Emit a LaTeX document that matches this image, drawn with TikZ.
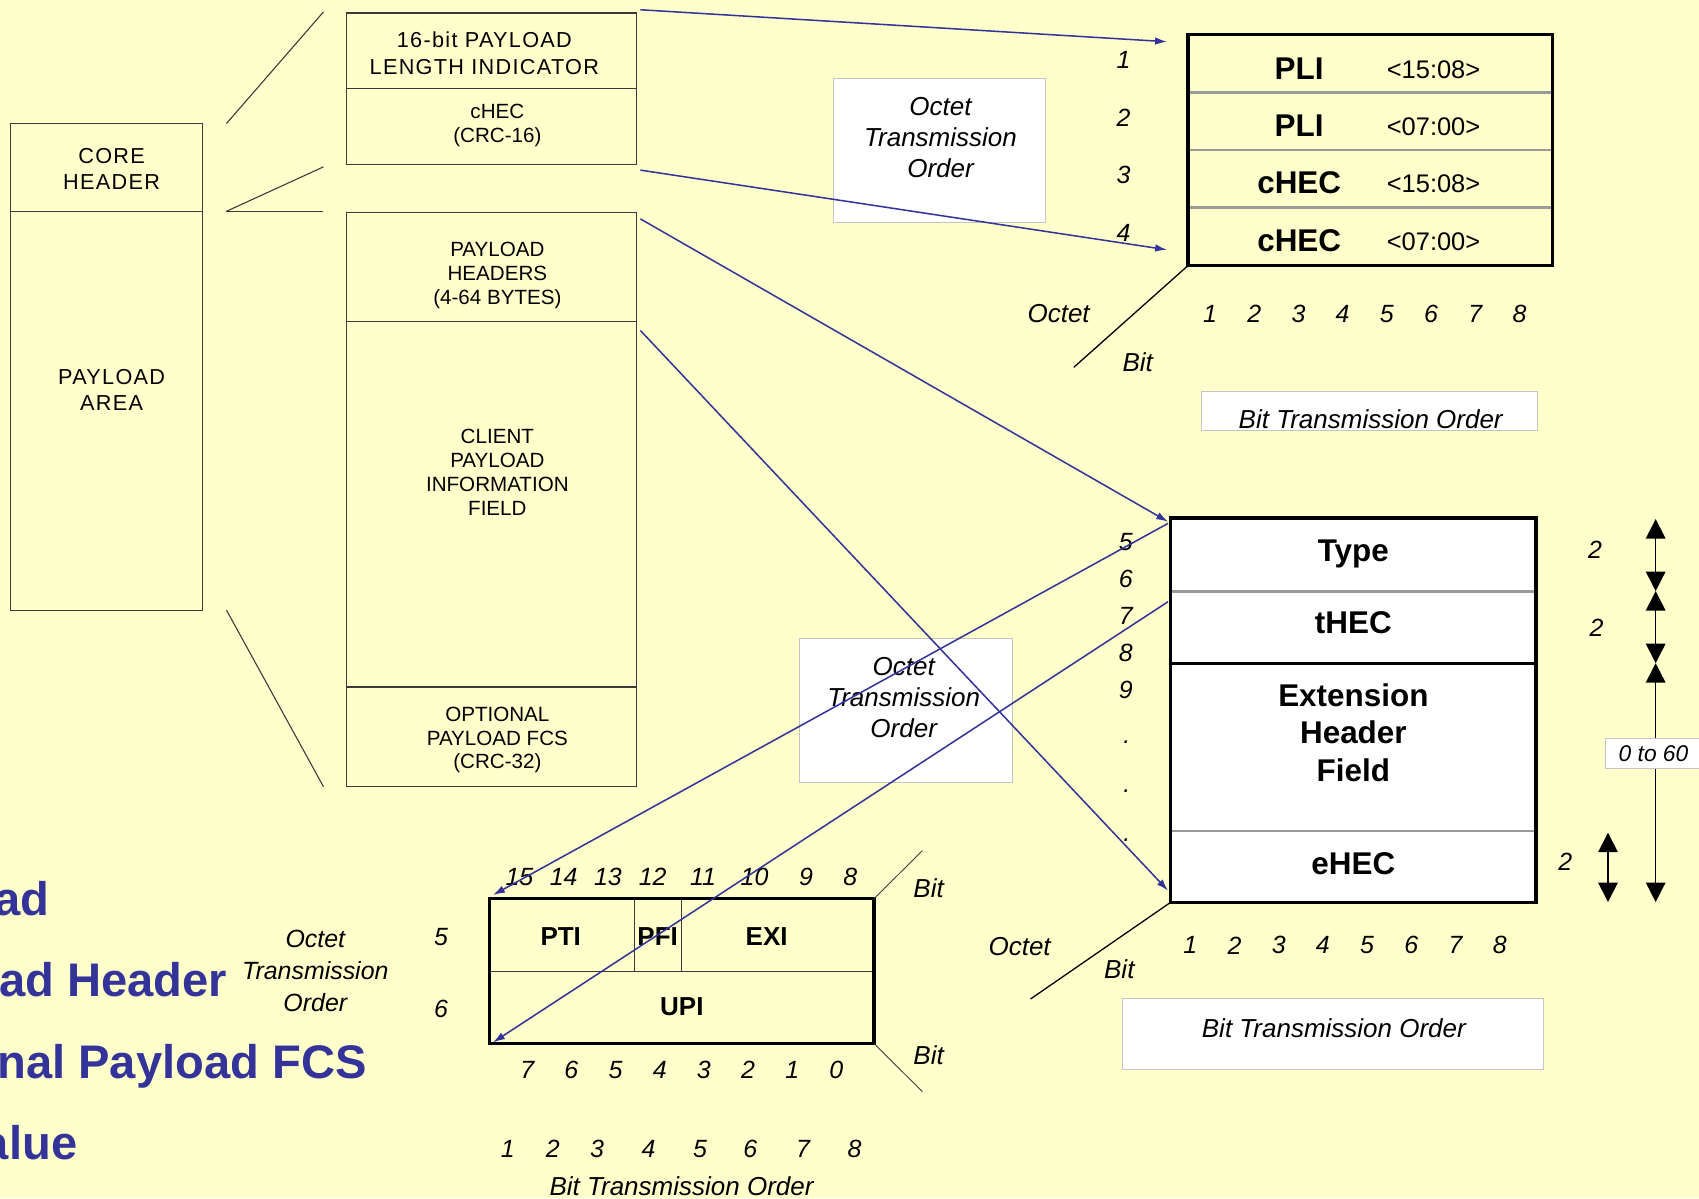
\documentclass[tikz,border=0pt]{standalone}
\usepackage{fontspec}
\setmainfont{Liberation Sans}
\newfontfamily\spacedfont[LetterSpace=6]{Liberation Sans}
\usetikzlibrary{arrows.meta}
\definecolor{bgyellow}{HTML}{FFFFCC}
\definecolor{navy}{HTML}{333399}
\definecolor{divgrey}{HTML}{9A9A9A}
\definecolor{boxedge}{HTML}{C4C4C4}
\definecolor{thinline}{HTML}{3A3A3A}
\begin{document}
\begin{tikzpicture}[x=1pt,y=-1pt,
  outline/.style={draw=thinline, line width=1pt},
  heavy/.style={draw=black, line width=3pt},
  greydiv/.style={draw=divgrey, line width=2.5pt},
  capslbl/.style={font=\fontsize{19}{22}\selectfont, align=center, inner sep=0pt},
  spacedlbl/.style={font=\spacedfont\fontsize{20}{24}\selectfont, align=center, inner sep=0pt},
  itnum/.style={font=\itshape\fontsize{23}{27}\selectfont, inner sep=0pt},
  itlbl/.style={font=\itshape\fontsize{24}{28.5}\selectfont, align=center, inner sep=0pt},
  fieldlbl/.style={font=\bfseries\fontsize{29}{34.5}\selectfont, align=center, inner sep=0pt},
  smallfield/.style={font=\bfseries\fontsize{24}{28}\selectfont, inner sep=0pt},
  rangelbl/.style={font=\fontsize{23.5}{27}\selectfont, inner sep=0pt},
  whitebox/.style={fill=white, draw=boxedge, line width=0.8pt},
  conn/.style={draw=navy, line width=1.4pt, -{Latex[length=11pt,width=7pt]}},
  dimarrow/.style={line width=1.4pt, {Triangle[length=18pt,width=18pt]}-{Triangle[length=18pt,width=18pt]}},
  bluetxt/.style={font=\bfseries\fontsize{43.5}{50}\selectfont, text=navy, inner sep=0pt, anchor=base east}
]
\fill[bgyellow] (0,0) rectangle (1568,1106);
\useasboundingbox (0,0) rectangle (1568,1106);
\clip (0,0) rectangle (1568,1106);

% ---------- left: core header / payload area ----------
\draw[outline] (10,114) rectangle (187,563);
\draw[outline] (10,195) -- (187,195);
\node[spacedlbl] (coreh) at (103,156) {CORE\\HEADER};
\node[spacedlbl] (payarea) at (103,360) {PAYLOAD\\AREA};

% expansion lines
\draw[outline] (209,114) -- (298.5,11);
\draw[outline] (209,195) -- (298.5,154);
\draw[outline] (209,195) -- (298.5,195);
\draw[outline] (209,563) -- (298.5,726);

% ---------- middle: core header detail ----------
\draw[outline] (320,12) rectangle (587,152);
\draw[outline] (320,82) -- (587,82);
\node[spacedlbl, font=\spacedfont\fontsize{20}{25}\selectfont] (pli16) at (447,49) {16-bit PAYLOAD\\LENGTH INDICATOR};
\node[capslbl] (chec16) at (459,116) {cHEC\\(CRC-16)};

% ---------- middle: payload area detail ----------
\draw[outline] (320,196) rectangle (587,726);
\draw[outline] (320,297) -- (587,297);
\draw[outline] (320,634) -- (587,634);
\node[capslbl] (payhdr) at (459,254) {PAYLOAD\\HEADERS\\(4-64 BYTES)};
\node[capslbl] (client) at (459,436) {CLIENT\\PAYLOAD\\INFORMATION\\FIELD};
\node[capslbl] (optfcs) at (459,683) {OPTIONAL\\PAYLOAD FCS\\(CRC-32)};

% ---------- white label boxes ----------
\draw[whitebox] (769,72) rectangle (965,205);
\node[itlbl] (oto1) at (868,127) {Octet\\Transmission\\Order};
\draw[whitebox] (738,589) rectangle (934,722);
\node[itlbl] (oto2) at (834,644) {Octet\\Transmission\\Order};
\draw[whitebox] (1108.5,361.5) rectangle (1418.5,397.5);
\node[itlbl] (bto1) at (1265,387) {Bit Transmission Order};
\draw[whitebox] (1036,921) rectangle (1424,987);
\node[itlbl] (bto2) at (1231,949) {Bit Transmission Order};

% ---------- top right table ----------
\draw[greydiv] (1096.5,85.3) -- (1433,85.3);
\draw[greydiv] (1096.5,138.5) -- (1433,138.5);
\draw[greydiv] (1096.5,191.7) -- (1433,191.7);
\draw[heavy] (1096.5,31.5) rectangle (1433,245);
\node[fieldlbl] (pli1) at (1199,63) {PLI};
\node[fieldlbl] (pli2) at (1199,116) {PLI};
\node[fieldlbl] (chec1) at (1199,169) {cHEC};
\node[fieldlbl] (chec2) at (1199,222) {cHEC};
\node[rangelbl] (r1) at (1323,64) {<15:08>};
\node[rangelbl] (r2) at (1323,117) {<07:00>};
\node[rangelbl] (r3) at (1323,170) {<15:08>};
\node[rangelbl] (r4) at (1323,223) {<07:00>};
\node[itnum] (o1) at (1037,55.5) {1};
\node[itnum] (o2) at (1037,109) {2};
\node[itnum] (o3) at (1037,161.5) {3};
\node[itnum] (o4) at (1037,215) {4};
\coordinate (t1corner) at (1096.5,245);
\coordinate (t1diag) at (991,339);
\draw[line width=1.2pt] (t1corner) -- (t1diag);
\node[itlbl] (oct1) at (977,289.5) {Octet};
\node[itlbl] (bit1) at (1050,334) {Bit};
\foreach \i in {1,...,8}{
  \node[itnum] (ta\i) at ({1116.7+40.8*(\i-1)},289.5) {\i};
}

% ---------- right table: type / thec / ext / ehec ----------
\fill[white] (1080,478) rectangle (1417.5,833);
\draw[greydiv] (1080,545.8) -- (1417.5,545.8);
\draw[draw=black, line width=3pt] (1080,612.5) -- (1417.5,612.5);
\draw[greydiv] (1080,766.8) -- (1417.5,766.8);
\draw[heavy] (1080,478) rectangle (1417.5,833);
\node[fieldlbl, anchor=base] (typ) at (1249,518.5) {Type};
\node[fieldlbl] (thec) at (1249,575) {tHEC};
\node[fieldlbl] (ext) at (1249,676) {Extension\\Header\\Field};
\node[fieldlbl] (ehec) at (1249,797) {eHEC};
\node[itnum] (o5) at (1039,500.5) {5};
\node[itnum] (o6) at (1039,534.5) {6};
\node[itnum] (o7) at (1039,568) {7};
\node[itnum] (o8) at (1039,603) {8};
\node[itnum] (o9) at (1039,637) {9};
\node[itnum] (d1) at (1040,685) {.};
\node[itnum] (d2) at (1040,730) {.};
\node[itnum] (d3) at (1040,775) {.};
\coordinate (t2corner) at (1080,833);
\coordinate (t2diag) at (951,922);
\draw[line width=1.2pt] (t2corner) -- (t2diag);
\node[itlbl] (oct2) at (941,874) {Octet};
\node[itlbl] (bit2) at (1033,894.5) {Bit};
\foreach \i in {1,...,8}{
  \node[itnum] (tb\i) at ({1098.5+40.8*(\i-1)},872.5) {\i};
}

% dimension arrows
\coordinate (da0) at (1528,479);
\coordinate (da1) at (1528,545.5);
\coordinate (da2) at (1528,612);
\coordinate (da3) at (1528,832.5);
\coordinate (db0) at (1484,768.5);
\coordinate (db1) at (1484,832.5);
\draw[dimarrow] (da0) -- (da1);
\draw[dimarrow] (da1) -- (da2);
\draw[dimarrow] (da2) -- (da3);
\draw[dimarrow] (db0) -- (db1);
\fill[white] (1481.5,681.5) rectangle (1580,709);
\draw[draw=boxedge, line width=0.8pt] (1580,681.5) -- (1481.5,681.5) -- (1481.5,709) -- (1580,709);
\node[itnum, font=\itshape\fontsize{21}{25}\selectfont] (zero60) at (1526,696) {0 to 60};
\node[itnum] (two1) at (1472,507.5) {2};
\node[itnum] (two2) at (1473.5,579) {2};
\node[itnum] (two3) at (1444.5,795.5) {2};

% ---------- bottom table: PTI / PFI / EXI / UPI ----------
\draw[outline] (451.5,896.8) -- (806.5,896.8);
\draw[outline] (585.6,829.5) -- (585.6,896.8);
\draw[outline] (629.3,829.5) -- (629.3,896.8);
\draw[heavy] (451.5,829.5) rectangle (806.5,963);
\node[smallfield] (pti) at (517.5,864.5) {PTI};
\node[smallfield] (pfi) at (607,864.5) {PFI};
\node[smallfield] (exi) at (707.5,864.5) {EXI};
\node[smallfield] (upi) at (629.3,929) {UPI};
\foreach \lbl/\xx [count=\k] in {15/479.4,14/520.2,13/561,12/602.4,11/648.8,10/696.4,9/743.9,8/784.8}{
  \node[itnum] (bt\k) at (\xx,809) {\lbl};
}
\foreach \lbl [count=\k from 0] in {7,6,5,4,3,2,1,0}{
  \node[itnum] (bb\k) at ({486.6+40.75*\k},987.5) {\lbl};
}
\foreach \xx [count=\k] in {468.7,510.1,551,598.5,646,692.5,741.1,788.7}{
  \node[itnum] (bn\k) at (\xx,1060) {\k};
}
\node[itlbl] (bto3) at (629,1095) {Bit Transmission Order};
\coordinate (t3ne) at (806.5,829.5);
\coordinate (t3se) at (806.5,963);
\coordinate (t3up) at (851.3,785);
\coordinate (t3dn) at (851.3,1007.5);
\draw[outline, line width=0.8pt] (t3ne) -- (t3up);
\draw[outline, line width=0.8pt] (t3se) -- (t3dn);
\node[itlbl] (bit3) at (857,820) {Bit};
\node[itlbl] (bit4) at (857,973.5) {Bit};
\node[itnum] (o5b) at (407,864.5) {5};
\node[itnum] (o6b) at (407,931.5) {6};
\node[itlbl, font=\itshape\fontsize{23}{29.7}\selectfont] (oto3) at (291,896) {Octet\\Transmission\\Order};

% ---------- blue connectors ----------
\coordinate (s1) at (591,9);
\coordinate (s2) at (591,157);
\coordinate (s3) at (591,202);
\coordinate (s4) at (591,305);
\coordinate (e1) at (1077,38.5);
\coordinate (e2) at (1077,230.5);
\coordinate (e3) at (1078,481.5);
\coordinate (e4) at (1078,822);
\coordinate (s5) at (1078,483);
\coordinate (s6) at (1078,555.3);
\coordinate (e5) at (455,826);
\coordinate (e6) at (455,962);
\draw[conn] (s1) -- (e1);
\draw[conn] (s2) -- (e2);
\draw[conn] (s3) -- (e3);
\draw[conn] (s4) -- (e4);
\draw[conn] (s5) -- (e5);
\draw[conn] (s6) -- (e6);

% ---------- clipped blue text at left (as in the reference) ----------
\node[bluetxt] (bl1) at (45.5,845) {ad};
\node[bluetxt] (bl2) at (210,920) {ad Header};
\node[bluetxt] (bl3) at (338.5,995.5) {nal Payload FCS};
\node[bluetxt] (bl4) at (71.5,1070) {alue};
\end{tikzpicture}
\end{document}
